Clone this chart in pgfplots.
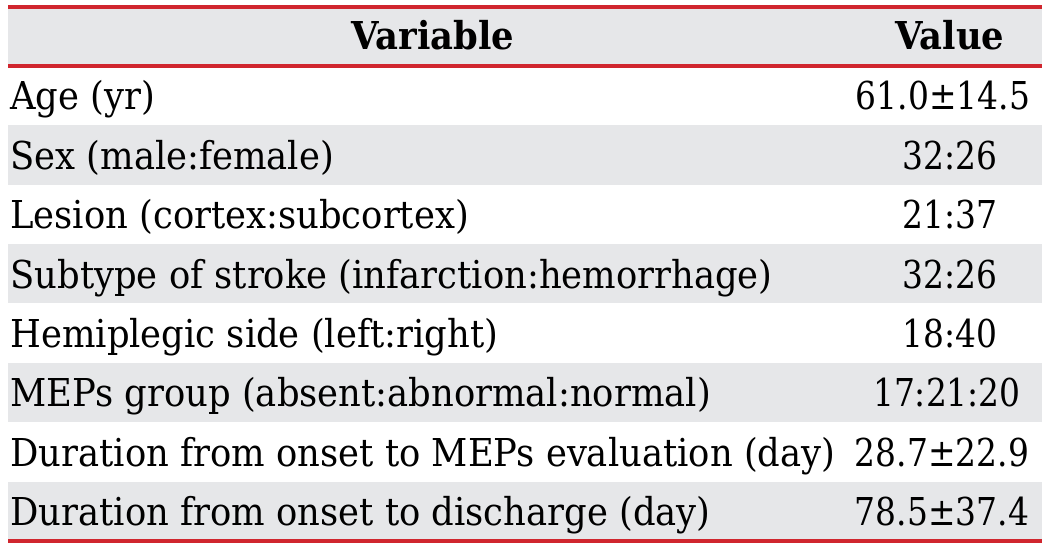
\documentclass[border=0pt]{standalone}
\usepackage{fontspec}
\setmainfont{DejaVu Serif}
\usepackage{graphicx}
\usepackage{pgfplots}
\pgfplotsset{compat=1.18}
\definecolor{redline}{HTML}{D0262E}
\definecolor{rowgray}{HTML}{E6E7E9}
\newlength{\reflen}
\begin{document}%
\fontsize{19.2pt}{23pt}\selectfont%
\settowidth{\reflen}{Duration from onset to MEPs evaluation (day)}%
\pgfmathsetmacro{\sx}{412.5/\reflen}%
\pgfmathsetmacro{\sv}{0.93*\sx}%
\newcommand{\T}[1]{\scalebox{\sx}[1]{#1}}%
\newcommand{\V}[1]{\scalebox{\sv}[1]{#1}}%
\begin{tikzpicture}
\begin{axis}[width=525pt,height=274.5pt,scale only axis,hide axis,
  xmin=0,xmax=1050,ymin=0,ymax=549,y dir=reverse,clip=false]
% full frame (invisible) to fix the picture size
\addplot[draw=none,forget plot] coordinates {(0,0) (1050,0) (1050,549) (0,549)};
% shaded rows
\addplot[fill=rowgray,draw=none] coordinates {(8,7) (1042,7) (1042,66) (8,66)} --cycle;
\addplot[fill=rowgray,draw=none] coordinates {(8,125.4) (1042,125.4) (1042,184.75) (8,184.75)} --cycle;
\addplot[fill=rowgray,draw=none] coordinates {(8,244.1) (1042,244.1) (1042,303.5) (8,303.5)} --cycle;
\addplot[fill=rowgray,draw=none] coordinates {(8,362.9) (1042,362.9) (1042,422.25) (8,422.25)} --cycle;
\addplot[fill=rowgray,draw=none] coordinates {(8,481.6) (1042,481.6) (1042,541) (8,541)} --cycle;
% red rules
\addplot[redline,line width=1.7pt] coordinates {(8,7) (1042,7)};
\addplot[redline,line width=1.7pt] coordinates {(8,66) (1042,66)};
\addplot[redline,line width=1.7pt] coordinates {(8,541) (1042,541)};
% header
\node[anchor=base,inner sep=0] at (axis cs:433,50) {\T{\bfseries Variable}};
\node[anchor=base,inner sep=0] at (axis cs:950,50) {\T{\bfseries Value}};
% rows
\node[anchor=base west,inner sep=0] at (axis cs:10,110) {\T{Age (yr)}};
\node[anchor=base west,inner sep=0] at (axis cs:10,169.4) {\T{Sex (male:female)}};
\node[anchor=base west,inner sep=0] at (axis cs:10,228.75) {\T{Lesion (cortex:subcortex)}};
\node[anchor=base west,inner sep=0] at (axis cs:10,288.1) {\T{Subtype of stroke (infarction:hemorrhage)}};
\node[anchor=base west,inner sep=0] at (axis cs:10,347.5) {\T{Hemiplegic side (left:right)}};
\node[anchor=base west,inner sep=0] at (axis cs:10,406.9) {\T{MEPs group (absent:abnormal:normal)}};
\node[anchor=base west,inner sep=0] at (axis cs:10,466.25) {\T{Duration from onset to MEPs evaluation (day)}};
\node[anchor=base west,inner sep=0] at (axis cs:10,525.6) {\T{Duration from onset to discharge (day)}};
% values
\node[anchor=base,inner sep=0] at (axis cs:943,110) {\V{61.0±14.5}};
\node[anchor=base,inner sep=0] at (axis cs:950,169.4) {\V{32:26}};
\node[anchor=base,inner sep=0] at (axis cs:950,228.75) {\V{21:37}};
\node[anchor=base,inner sep=0] at (axis cs:950,288.1) {\V{32:26}};
\node[anchor=base,inner sep=0] at (axis cs:950,347.5) {\V{18:40}};
\node[anchor=base,inner sep=0] at (axis cs:947,406.9) {\V{17:21:20}};
\node[anchor=base,inner sep=0] at (axis cs:942,466.25) {\V{28.7±22.9}};
\node[anchor=base,inner sep=0] at (axis cs:942,525.6) {\V{78.5±37.4}};
\end{axis}
\end{tikzpicture}%
\end{document}
